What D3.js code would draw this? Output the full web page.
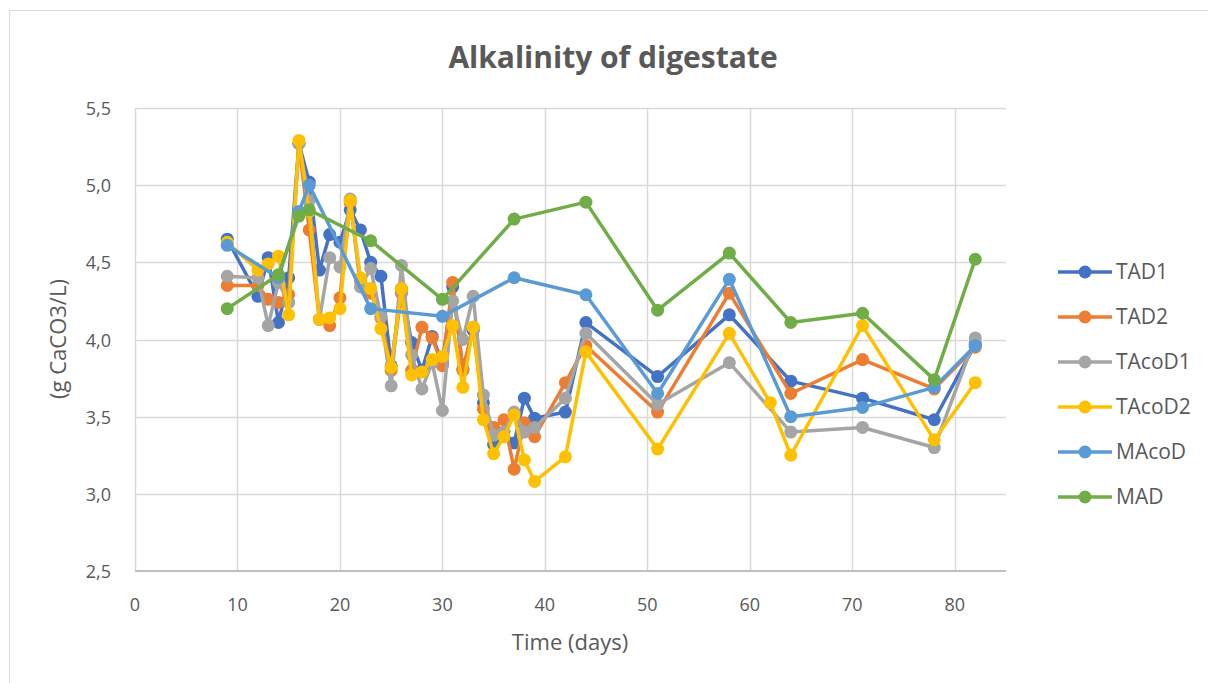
<!DOCTYPE html>
<html>
<head>
<meta charset="utf-8">
<script src="https://cdn.jsdelivr.net/npm/d3@7"></script>
<style>
  body { margin: 0; background: #fff; }
  text { font-family: "Open Sans", "Noto Sans", sans-serif; fill: #595959; }
</style>
</head>
<body>
<svg id="chart" width="1208" height="683"></svg>
<script>
// days and values
const daysT = [9, 12, 13, 14, 15, 16, 17, 18, 19, 20, 21, 22, 23, 24, 25, 26, 27, 28, 29, 30,
  31, 32, 33, 34, 35, 36, 37, 38, 39, 42, 44, 51, 58, 64, 71, 78, 82];
const daysTAcoD2 = [9, 12, 13, 14, 15, 16, 17, 18, 19, 20, 21, 22, 23, 24, 25, 26, 27, 28, 29, 30,
  31, 32, 33, 34, 35, 36, 37, 38, 39, 42, 44, 51, 58, 62, 64, 71, 78, 82];
const daysM = [9, 14, 16, 17, 23, 30, 37, 44, 51, 58, 64, 71, 78, 82];

const tad1 = [4.65, 4.28, 4.53, 4.11, 4.40, 5.27, 5.02, 4.45, 4.68, 4.63, 4.84, 4.71, 4.50, 4.41, 3.83,
  4.33, 3.98, 3.80, 4.02, 3.85, 4.34, 3.81, 4.06, 3.59, 3.32, 3.40, 3.33, 3.62, 3.49, 3.53,
  4.11, 3.76, 4.16, 3.73, 3.62, 3.48, 3.97];
const tad2 = [4.35, 4.35, 4.26, 4.24, 4.29, 5.27, 4.71, 4.13, 4.09, 4.27, 4.89, 4.38, 4.30, 4.14, 3.80,
  4.30, 3.80, 4.08, 4.01, 3.83, 4.37, 3.80, 4.08, 3.55, 3.43, 3.48, 3.16, 3.46, 3.37, 3.72,
  3.96, 3.53, 4.30, 3.65, 3.87, 3.68, 3.95];
const tacod1 = [4.41, 4.40, 4.09, 4.37, 4.24, 5.27, 4.90, 4.13, 4.53, 4.47, 4.91, 4.34, 4.46, 4.15, 3.70,
  4.48, 3.90, 3.68, 3.85, 3.54, 4.25, 4.00, 4.28, 3.64, 3.38, 3.40, 3.53, 3.40, 3.43, 3.62,
  4.04, 3.58, 3.85, 3.40, 3.43, 3.30, 4.01];
const tacod2 = [4.63, 4.45, 4.49, 4.54, 4.16, 5.29, 4.83, 4.13, 4.14, 4.20, 4.90, 4.40, 4.33, 4.07, 3.82,
  4.33, 3.77, 3.79, 3.87, 3.89, 4.09, 3.69, 4.08, 3.48, 3.26, 3.37, 3.51, 3.22, 3.08, 3.24,
  3.92, 3.29, 4.04, 3.59, 3.25, 4.09, 3.35, 3.72];
const macod = [4.61, 4.40, 4.83, 5.00, 4.20, 4.15, 4.40, 4.29, 3.65, 4.39, 3.50, 3.56, 3.69, 3.96];
const mad = [4.20, 4.42, 4.80, 4.84, 4.64, 4.26, 4.78, 4.89, 4.19, 4.56, 4.11, 4.17, 3.74, 4.52];

const xTicks = [0, 10, 20, 30, 40, 50, 60, 70, 80];
const yTicks = [2.5, 3.0, 3.5, 4.0, 4.5, 5.0, 5.5];

const series = [
  { name: 'TAD1', days: daysT, values: tad1, color: '#4472C4' },
  { name: 'TAD2', days: daysT, values: tad2, color: '#ED7D31' },
  { name: 'TAcoD1', days: daysT, values: tacod1, color: '#A5A5A5' },
  { name: 'TAcoD2', days: daysTAcoD2, values: tacod2, color: '#FFC000' },
  { name: 'MAcoD', days: daysM, values: macod, color: '#5B9BD5' },
  { name: 'MAD', days: daysM, values: mad, color: '#70AD47' }
];

const svg = d3.select('#chart');

// outer chart frame
svg.append('rect')
  .attr('x', 9.5).attr('y', 10.5)
  .attr('width', 1220).attr('height', 700)
  .attr('fill', 'none').attr('stroke', '#d9d9d9');

const x = d3.scaleLinear().domain([0, 85]).range([135, 1006]);
const y = d3.scaleLinear().domain([2.5, 5.5]).range([571, 108]);
const fmt = d => d3.format('.1f')(d).replace('.', ',');

// grid
svg.append('g').selectAll('line').data(yTicks.slice(1)).join('line')
  .attr('x1', x(0)).attr('x2', x(85))
  .attr('y1', d => Math.round(y(d)) + 0.5).attr('y2', d => Math.round(y(d)) + 0.5)
  .attr('stroke', '#d9d9d9').attr('stroke-width', 1.5);
svg.append('g').selectAll('line').data(xTicks).join('line')
  .attr('x1', d => Math.round(x(d)) + 0.5).attr('x2', d => Math.round(x(d)) + 0.5)
  .attr('y1', y(5.5)).attr('y2', y(2.5))
  .attr('stroke', '#d9d9d9').attr('stroke-width', 1.5);

// x axis line
svg.append('line')
  .attr('x1', x(0)).attr('x2', x(85))
  .attr('y1', y(2.5)).attr('y2', y(2.5))
  .attr('stroke', '#bfbfbf').attr('stroke-width', 2);

// tick labels
svg.append('g').selectAll('text').data(yTicks).join('text')
  .attr('x', 111).attr('y', d => y(d) + 7)
  .attr('text-anchor', 'end').attr('font-size', 18)
  .text(fmt);
svg.append('g').selectAll('text').data(xTicks).join('text')
  .attr('x', d => x(d)).attr('y', 611)
  .attr('text-anchor', 'middle').attr('font-size', 18)
  .text(d => d);

// titles
svg.append('text')
  .attr('x', 613).attr('y', 68)
  .attr('text-anchor', 'middle').attr('font-size', 30).attr('font-weight', 'bold')
  .text('Alkalinity of digestate');
svg.append('text')
  .attr('x', 570).attr('y', 650)
  .attr('text-anchor', 'middle').attr('font-size', 22)
  .text('Time (days)');
svg.append('text')
  .attr('transform', 'translate(66,339) rotate(-90)')
  .attr('text-anchor', 'middle').attr('font-size', 22)
  .text('(g CaCO3/L)');

// series
const line = d3.line().x(d => x(d[0])).y(d => y(d[1]));
series.forEach(s => {
  const pts = s.days.map((d, i) => [d, s.values[i]]);
  const g = svg.append('g');
  g.append('path')
    .attr('d', line(pts))
    .attr('fill', 'none').attr('stroke', s.color)
    .attr('stroke-width', 3.5).attr('stroke-linejoin', 'round');
  g.selectAll('circle').data(pts).join('circle')
    .attr('cx', d => x(d[0])).attr('cy', d => y(d[1]))
    .attr('r', 6.5).attr('fill', s.color);
});

// legend
const leg = svg.append('g').selectAll('g').data(series).join('g')
  .attr('transform', (d, i) => `translate(1058,${272 + i * 45})`);
leg.append('line')
  .attr('x1', 0).attr('x2', 54)
  .attr('stroke', d => d.color).attr('stroke-width', 3.5);
leg.append('circle')
  .attr('cx', 27).attr('r', 6.5).attr('fill', d => d.color);
leg.append('text')
  .attr('x', 58).attr('y', 7).attr('font-size', 21)
  .text(d => d.name);
</script>
</body>
</html>
